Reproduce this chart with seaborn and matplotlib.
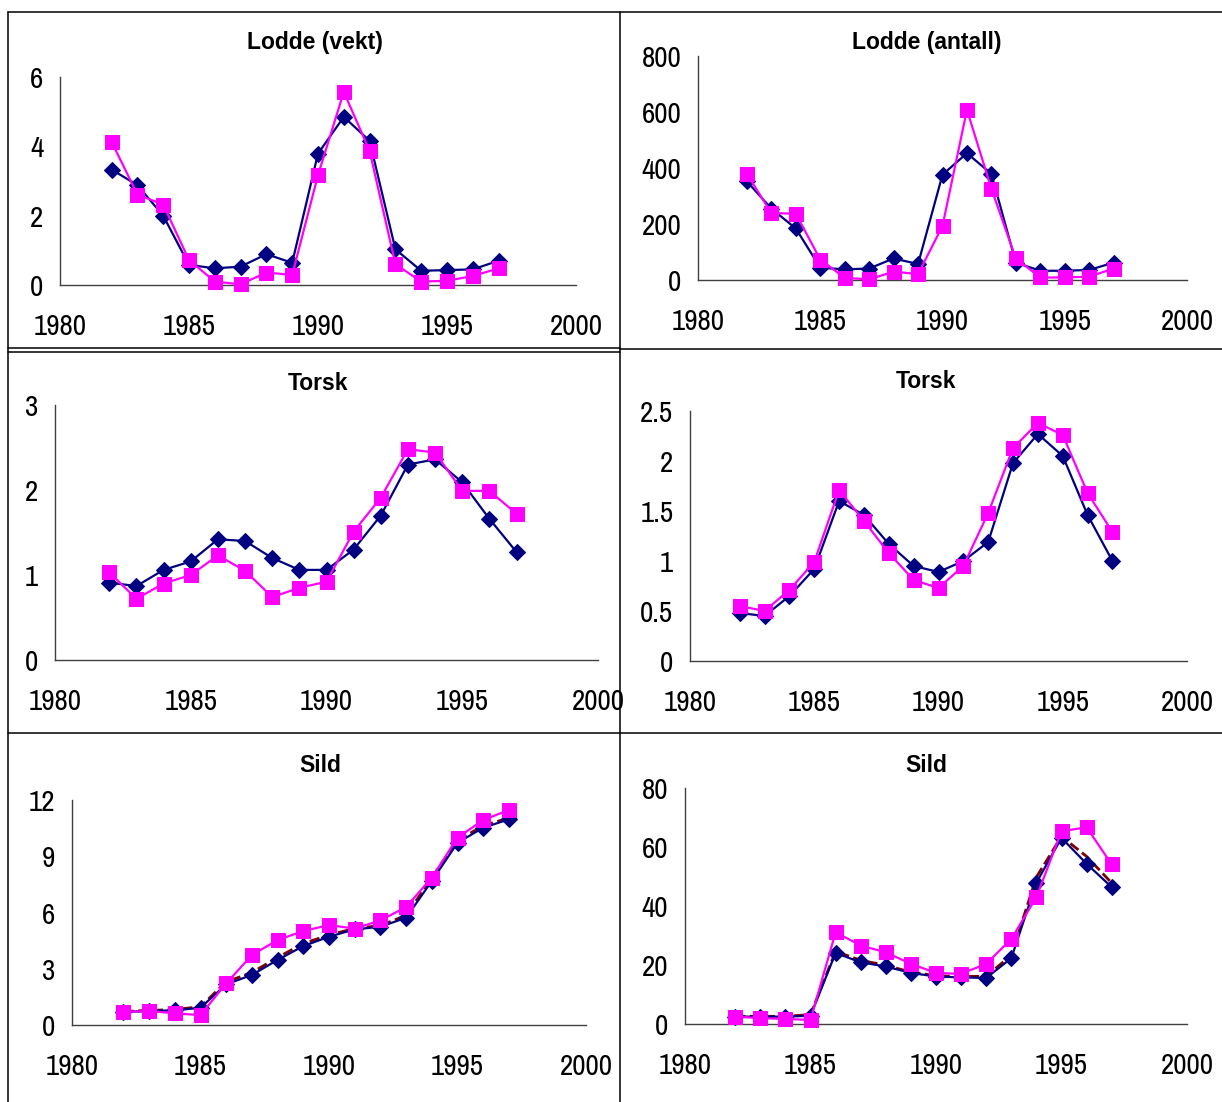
import numpy as np
import pandas as pd
import matplotlib
matplotlib.use('Agg')
import matplotlib.pyplot as plt
from matplotlib.lines import Line2D
import seaborn as sns

# Data (years 1982-1997)
years = list(range(1982, 1998))

lodde_vekt_a = [3.33, 2.88, 2.0, 0.58, 0.48, 0.53, 0.89, 0.64, 3.79, 4.85, 4.16, 1.03, 0.41, 0.43, 0.45, 0.7]
lodde_vekt_b = [4.13, 2.61, 2.32, 0.72, 0.1, 0.02, 0.36, 0.29, 3.17, 5.57, 3.87, 0.6, 0.1, 0.12, 0.26, 0.48]

lodde_ant_a = [352, 255, 184, 44, 38, 41, 77, 57, 376, 453, 379, 62, 33, 33, 36, 62]
lodde_ant_b = [379, 239, 237, 73, 8, 2, 30, 21, 193, 608, 326, 77, 9, 9, 12, 41]

torsk1_a = [0.91, 0.87, 1.06, 1.16, 1.42, 1.40, 1.20, 1.06, 1.06, 1.30, 1.70, 2.30, 2.36, 2.09, 1.66, 1.27]
torsk1_b = [1.03, 0.72, 0.90, 1.0, 1.23, 1.05, 0.74, 0.85, 0.92, 1.51, 1.91, 2.48, 2.44, 1.99, 1.99, 1.72]

torsk2_a = [0.48, 0.45, 0.65, 0.92, 1.60, 1.46, 1.17, 0.95, 0.89, 1.0, 1.19, 1.98, 2.27, 2.05, 1.46, 1.0]
torsk2_b = [0.55, 0.50, 0.71, 0.99, 1.71, 1.40, 1.08, 0.81, 0.73, 0.95, 1.48, 2.13, 2.38, 2.26, 1.68, 1.29]

sild1_a = [0.69, 0.75, 0.78, 0.92, 2.17, 2.67, 3.47, 4.21, 4.71, 5.10, 5.24, 5.72, 7.68, 9.72, 10.52, 10.97]
sild1_b = [0.69, 0.75, 0.62, 0.53, 2.22, 3.73, 4.53, 5.01, 5.33, 5.14, 5.58, 6.29, 7.86, 9.99, 10.93, 11.47]
sild1_c = [0.72, 0.78, 0.82, 0.98, 2.3, 2.8, 3.6, 4.35, 4.8, 5.15, 5.3, 5.85, 7.85, 9.85, 10.62, 11.05]

sild2_a = [2.5, 2.5, 2.5, 2.8, 24.1, 20.9, 19.5, 17.3, 16.1, 15.8, 15.6, 22.3, 47.9, 63.1, 54.3, 46.4]
sild2_b = [2.5, 2.0, 1.7, 1.4, 31.1, 26.6, 24.3, 20.4, 17.3, 17.0, 20.4, 28.8, 43.0, 65.3, 66.7, 54.1]
sild2_c = [2.6, 2.6, 2.6, 3.2, 24.6, 21.6, 19.9, 17.6, 16.4, 16.1, 16.2, 23.3, 49.8, 63.6, 56.8, 47.8]

titles = ['Lodde (vekt)', 'Lodde (antall)', 'Torsk', 'Torsk', 'Sild', 'Sild']
yticks_list = [[0, 2, 4, 6], [0, 200, 400, 600, 800], [0, 1, 2, 3],
               [0, 0.5, 1, 1.5, 2, 2.5], [0, 3, 6, 9, 12], [0, 20, 40, 60, 80]]
ylabels_list = [['0', '2', '4', '6'], ['0', '200', '400', '600', '800'], ['0', '1', '2', '3'],
                ['0', '0.5', '1', '1.5', '2', '2.5'], ['0', '3', '6', '9', '12'],
                ['0', '20', '40', '60', '80']]
xticks = [1980, 1985, 1990, 1995, 2000]
series = [(lodde_vekt_a, lodde_vekt_b, None), (lodde_ant_a, lodde_ant_b, None),
          (torsk1_a, torsk1_b, None), (torsk2_a, torsk2_b, None),
          (sild1_a, sild1_b, sild1_c), (sild2_a, sild2_b, sild2_c)]

sns.set_style('white')
plt.rcParams['font.family'] = ['Archivo Narrow', 'Liberation Sans', 'DejaVu Sans']
plt.rcParams['text.color'] = 'black'
plt.rcParams['xtick.labelcolor'] = 'black'
plt.rcParams['ytick.labelcolor'] = 'black'

W, H = 1222, 1102
fig = plt.figure(figsize=(W / 100, H / 100), dpi=100)

# axes boxes in pixels: left, right, bottom(y0), top(ymax)
boxes = [(60, 576, 285, 77), (698, 1187, 280, 56), (55, 598, 660, 405),
         (690, 1187, 661, 411), (72, 586, 1025, 800), (685, 1187, 1024, 788)]
title_xy = [(315, 42), (927, 43), (318, 384), (926, 381), (320, 765), (926, 765)]

for i, (l, r, b, t) in enumerate(boxes):
    ax = fig.add_axes([l / W, 1 - b / H, (r - l) / W, (b - t) / H])
    a, bb, c = series[i]
    if c is not None:
        sns.lineplot(x=years, y=c, ax=ax, color='#800000', linestyle='--', linewidth=2.0, zorder=2)
    sns.lineplot(x=years, y=a, ax=ax, color='#000080', marker='D', markersize=8,
                 markeredgecolor='#000080', linewidth=1.6, zorder=3)
    sns.lineplot(x=years, y=bb, ax=ax, color='#FF00FF', marker='s', markersize=9.5,
                 markeredgecolor='#FF00FF', linewidth=1.6, zorder=4)
    ax.set_xlim(1980, 2000)
    ax.set_ylim(yticks_list[i][0], yticks_list[i][-1])
    ax.set_xticks(xticks)
    ax.set_xticklabels([str(x) for x in xticks])
    ax.set_yticks(yticks_list[i])
    ax.set_yticklabels(ylabels_list[i])
    for s in ['top', 'right']:
        ax.spines[s].set_visible(False)
    for s in ['left', 'bottom']:
        ax.spines[s].set_color('#404040')
        ax.spines[s].set_linewidth(1.0)
    ax.tick_params(axis='x', direction='in', length=5, width=1, color='#404040',
                   labelcolor='black', pad=20, labelsize=21)
    ax.tick_params(axis='y', direction='in', length=5, width=1, color='#404040',
                   labelcolor='black', pad=12, labelsize=21)
    ax.set_xlabel('')
    ax.set_ylabel('')
    ax.patch.set_alpha(0)
    for ln in ax.lines:
        ln.set_clip_on(False)
    tx, ty = title_xy[i]
    fig.text(tx / W, 1 - ty / H, titles[i], ha='center', va='center', fontsize=16.5,
             fontweight='bold', color='black', family=['Liberation Sans', 'DejaVu Sans'])


def hline(y, x0, x1):
    fig.add_artist(Line2D([x0 / W, x1 / W], [1 - y / H, 1 - y / H], color='black',
                          linewidth=1.1, transform=fig.transFigure))


def vline(x, y0, y1):
    fig.add_artist(Line2D([x / W, x / W], [1 - y0 / H, 1 - y1 / H], color='black',
                          linewidth=1.1, transform=fig.transFigure))


# panel frames
hline(12, 8, W)
vline(8, 12, H)
vline(620, 12, H)
hline(348, 8, 620)
hline(352, 8, 620)
hline(349, 620, W)
hline(733, 8, W)

fig.savefig('out.png', dpi=100)
